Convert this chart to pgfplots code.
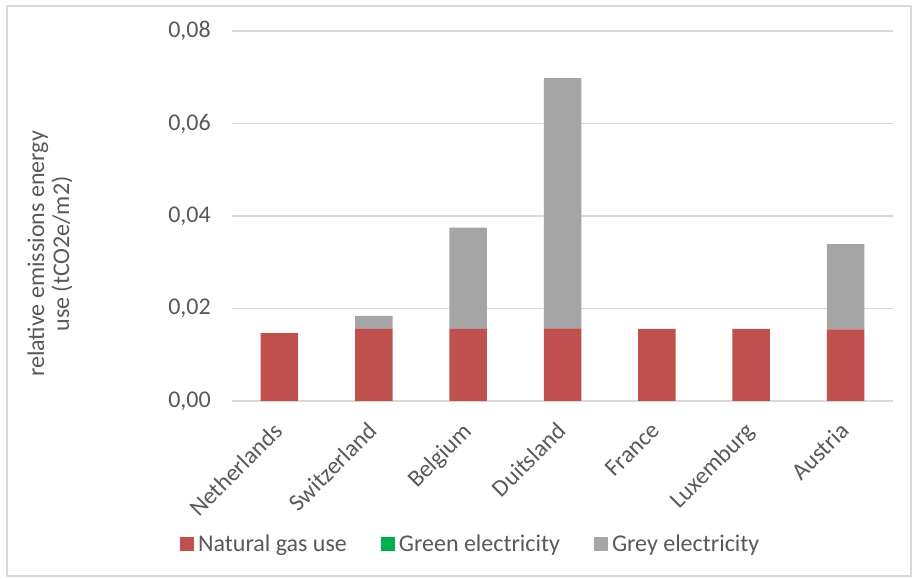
\documentclass[border=0pt]{standalone}
\usepackage{pgfplots}
\pgfplotsset{compat=1.18}
\usepackage{fontspec}
\setmainfont{Carlito}
\definecolor{gasred}{HTML}{C0504D}
\definecolor{greenel}{HTML}{00B050}
\definecolor{greyel}{HTML}{A5A5A5}
\definecolor{txt}{HTML}{595959}
\definecolor{gridc}{HTML}{D9D9D9}

\begin{document}
\begin{tikzpicture}
\path[use as bounding box] (0bp,0bp) rectangle (914bp,579bp);
% chart area frame
\draw[gridc, line width=1.2bp] (7bp,3bp) rectangle (911bp,573bp);
\begin{axis}[
  at={(232.3bp,178bp)}, anchor=south west,
  scale only axis, width=660.4bp, height=370bp,
  ybar stacked, bar width=37.5bp,
  xmin=-0.5, xmax=6.5, ymin=0, ymax=0.08,
  xtick={0,...,6},
  xticklabels={Netherlands,Switzerland,Belgium,Duitsland,France,Luxemburg,Austria},
  ytick={0,0.02,0.04,0.06,0.08},
  scaled y ticks=false,
  axis x line*=bottom, axis y line*=left,
  x axis line style={gridc, line width=1.2bp, -},
  y axis line style={draw=none},
  major tick length=0pt,
  ymajorgrids, major grid style={gridc, line width=1.2bp},
  tick label style={font=\fontsize{24bp}{28bp}\selectfont, text=txt},
  yticklabel style={/pgf/number format/.cd, fixed, fixed zerofill, precision=2, use comma, assume math mode=true, /tikz/.cd, xshift=-18bp},
  xticklabel style={xshift=-7bp, yshift=-15bp, rotate=45, anchor=north east},
  legend style={at={(0.361,-0.386)}, anchor=center, legend columns=3, draw=none,
    font=\fontsize{24bp}{28bp}\selectfont, text=txt,
    /tikz/every odd column/.append style={column sep=2bp},
    /tikz/every even column/.append style={column sep=32bp}},
  legend cell align=left,
  legend image code/.code={\fill[#1] (0bp,-7bp) rectangle (14bp,7bp);},
]
\addplot[fill=gasred, draw=none] coordinates {(0,0.0147) (1,0.0156) (2,0.0156) (3,0.0157) (4,0.0156) (5,0.0156) (6,0.0155)};
\addplot[fill=greenel, draw=none] coordinates {(0,0) (1,0) (2,0) (3,0) (4,0) (5,0) (6,0)};
\addplot[fill=greyel, draw=none] coordinates {(0,0) (1,0.0028) (2,0.0219) (3,0.0541) (4,0) (5,0) (6,0.0184)};
\legend{Natural gas use, Green electricity, Grey electricity}
\end{axis}
\node[rotate=90, align=center, text=txt, font=\fontsize{24bp}{25bp}\selectfont] at (50bp,325bp) {relative emissions energy\\use (tCO2e/m2)};
\end{tikzpicture}
\end{document}
